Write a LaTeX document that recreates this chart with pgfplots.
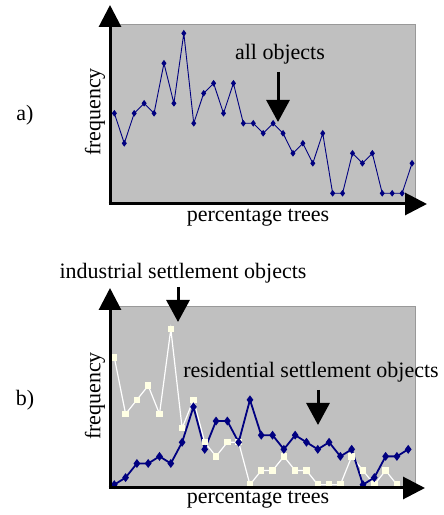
\documentclass[border=0pt]{standalone}
\usepackage{pgfplots}
\pgfplotsset{compat=1.18}
\usepackage{fontspec}
\setmainfont{Liberation Serif}
\usetikzlibrary{arrows.meta}
\definecolor{silverbg}{RGB}{192,192,192}
\definecolor{navyc}{RGB}{0,0,128}
\definecolor{creamc}{RGB}{255,255,228}
\begin{document}
\begin{tikzpicture}[x=1pt,y=1pt,font=\fontsize{22}{26}\selectfont]
\useasboundingbox (0,0) rectangle (444,515);
% ---------- a) ----------
\begin{axis}[at={(110pt,311pt)},anchor=south west,scale only axis,
  width=305pt,height=180pt,xmin=-0.44,xmax=30.3,ymin=-0.07,ymax=17.93,
  ticks=none,axis line style={draw=gray!80,line width=0.6pt},
  axis background/.style={fill=silverbg},clip=false]
\addplot[navyc,line width=0.9pt,mark=diamond*,mark size=2.6pt,mark options={fill=navyc,draw=navyc}] coordinates {
(0,9)(1,6)(2,9)(3,10)(4,9)(5,14)(6,10)(7,17)(8,8)(9,11)(10,12)(11,9)(12,12)(13,8)(14,8)(15,7)
(16,8)(17,7)(18,5)(19,6)(20,4)(21,7)(22,1)(23,1)(24,5)(25,4)(26,5)(27,1)(28,1)(29,1)(30,4)};
\end{axis}
% ---------- b) ----------
\begin{axis}[at={(110pt,27pt)},anchor=south west,scale only axis,
  width=305pt,height=182pt,xmin=-0.38,xmax=26.6,ymin=-0.47,ymax=25.27,
  ticks=none,axis line style={draw=gray!80,line width=0.6pt},
  axis background/.style={fill=silverbg},clip=false]
\addplot[white,line width=1.2pt,mark=square*,mark size=2.6pt,mark options={fill=creamc,draw=creamc}] coordinates {
(0,18)(1,10)(2,12)(3,14)(4,10)(5,22)(6,8)(7,12)(8,6)(9,4)(10,6)(11,6)(12,0)(13,2)(14,2)(15,4)
(16,2)(17,2)(18,0)(19,0)(20,0)(21,4)(22,2)(23,0)(24,2)(25,0)};
\addplot[navyc,line width=1.8pt,mark=diamond*,mark size=3pt,mark options={fill=navyc,draw=navyc}] coordinates {
(0,0)(1,1)(2,3)(3,3)(4,4)(5,3)(6,6)(7,11)(8,5)(9,9)(10,9)(11,6)(12,12)(13,7)(14,7)(15,5)
(16,7)(17,6)(18,5)(19,6)(20,4)(21,5)(22,0)(23,1)(24,4)(25,4)(26,5)};
\end{axis}
% axes arrows
\draw[line width=3pt,-{Triangle[length=22pt,width=22pt]}] (110,311) -- (110,510);
\draw[line width=3pt,-{Triangle[length=22pt,width=22pt]}] (108.5,311) -- (427,311);
\draw[line width=3pt,-{Triangle[length=22pt,width=22pt]}] (110,27) -- (110,227);
\draw[line width=3pt,-{Triangle[length=22pt,width=22pt]}] (108.5,27) -- (425,27);
% annotation arrows
\draw[line width=3pt,-{Triangle[length=22pt,width=23pt]}] (278,443) -- (278,393);
\draw[line width=3pt,-{Triangle[length=22pt,width=23pt]}] (178,228) -- (178,193);
\draw[line width=3pt,-{Triangle[length=22pt,width=23pt]}] (318,125) -- (318,90);
% texts
\node at (25,400) {a)};
\node[rotate=90] at (95,403) {frequency};
\node at (258,297) {percentage trees};
\node at (280,461) {all objects};
\node at (25,115) {b)};
\node[rotate=90] at (95,119) {frequency};
\node at (258,15) {percentage trees};
\node at (183,242) {industrial settlement objects};
\node at (311,143) {residential settlement objects};
\end{tikzpicture}
\end{document}
